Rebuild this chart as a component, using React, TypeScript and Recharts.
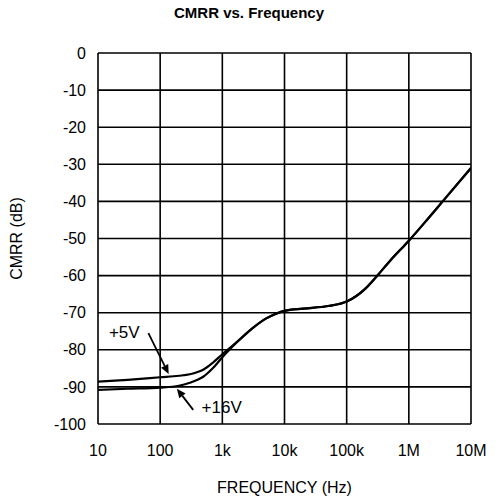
import React from "react";
import { LineChart, Line, XAxis, YAxis, CartesianGrid, ReferenceLine, Label } from "recharts";

const freqs = [10, 30, 100, 200, 300, 400, 500, 700, 1000, 1300, 2000, 3000, 5000, 7000, 10000, 20000, 50000, 100000, 200000, 300000, 500000, 1000000, 2000000, 3500000, 10000000];
const cmrr5V = [-88.6, -88.1, -87.4, -87.0, -86.6, -86.0, -85.3, -83.5, -81.2, -79.6, -76.9, -74.3, -71.6, -70.4, -69.5, -68.9, -68.2, -67.0, -63.5, -60.3, -56.0, -50.6, -44.8, -40.0, -31.0];
const cmrr16V = [-90.8, -90.5, -90.2, -89.7, -88.9, -88.1, -87.2, -85.0, -82.0, -80.0, -76.9, -74.3, -71.6, -70.4, -69.5, -68.9, -68.2, -67.0, -63.5, -60.3, -56.0, -50.6, -44.8, -40.0, -31.0];
const xTicks = [10, 100, 1000, 10000, 100000, 1000000, 10000000];
const xTickLabels = ["10", "100", "1k", "10k", "100k", "1M", "10M"];
const yTicks = [0, -10, -20, -30, -40, -50, -60, -70, -80, -90, -100];

const data = freqs.map((f, i) => ({ f, v5: cmrr5V[i], v16: cmrr16V[i] }));

const FONT = "'Liberation Sans', Arial, sans-serif";

const Arrow = (props: any) => {
  const { x1, y1, x2, y2 } = props;
  if ([x1, y1, x2, y2].some((v) => typeof v !== "number" || isNaN(v))) return null;
  const ang = Math.atan2(y2 - y1, x2 - x1);
  const L = 9, W = 4;
  const bx = x2 - L * Math.cos(ang), by = y2 - L * Math.sin(ang);
  const px = -Math.sin(ang) * W, py = Math.cos(ang) * W;
  return (
    <g>
      <line x1={x1} y1={y1} x2={bx} y2={by} stroke="#000" strokeWidth={1.8} />
      <polygon points={`${x2},${y2} ${bx + px},${by + py} ${bx - px},${by - py}`} fill="#000" />
    </g>
  );
};

export default function App() {
  return (
    <div style={{ position: "absolute", left: 0, top: 0, width: 502, height: 502, background: "#fff", fontFamily: FONT }}>
      <div style={{ position: "absolute", left: 0, top: 4, width: 498, textAlign: "center", fontWeight: "bold", fontSize: 15, color: "#000" }}>
        CMRR vs. Frequency
      </div>
      <LineChart width={502} height={502} data={data} margin={{ top: 53, right: 31, bottom: 0, left: 0 }}>
        <CartesianGrid stroke="#000" strokeWidth={1.6} horizontalValues={yTicks} verticalValues={xTicks} />
        <XAxis
          dataKey="f"
          type="number"
          scale="log"
          domain={[10, 10000000]}
          ticks={xTicks}
          tickFormatter={(v: number) => xTickLabels[xTicks.indexOf(v)] ?? String(v)}
          axisLine={false}
          tickLine={false}
          tickSize={0}
          tickMargin={21}
          height={78}
          allowDataOverflow
          interval={0}
          tick={{ fill: "#000", fontSize: 16, fontFamily: FONT }}
        >
          <Label value="FREQUENCY (Hz)" position="insideBottom" offset={9} style={{ fill: "#000", fontSize: 16, fontFamily: FONT }} />
        </XAxis>
        <YAxis
          type="number"
          domain={[-100, 0]}
          ticks={yTicks}
          interval={0}
          axisLine={false}
          tickLine={false}
          tickSize={0}
          tickMargin={12}
          width={98}
          allowDataOverflow
          tick={{ fill: "#000", fontSize: 16, fontFamily: FONT }}
        >
          <Label value="CMRR (dB)" angle={-90} position="insideLeft" offset={16} style={{ fill: "#000", fontSize: 16, fontFamily: FONT, textAnchor: "middle" }} />
        </YAxis>
        <Line type="monotone" dataKey="v5" stroke="#000" strokeWidth={2.2} dot={false} isAnimationActive={false} />
        <Line type="monotone" dataKey="v16" stroke="#000" strokeWidth={2.2} dot={false} isAnimationActive={false} />
        <ReferenceLine segment={[{ x: 64.6, y: -75.5 }, { x: 137, y: -86.5 }]} shape={Arrow} ifOverflow="visible" />
        <ReferenceLine segment={[{ x: 340, y: -96.2 }, { x: 186, y: -90.5 }]} shape={Arrow} ifOverflow="visible" />
        <ReferenceLine segment={[{ x: 15, y: -75.3 }, { x: 15, y: -75.3 }]} stroke="none" ifOverflow="visible">
          <Label value="+5V" position="right" offset={0} style={{ fill: "#000", fontSize: 17, fontFamily: FONT }} />
        </ReferenceLine>
        <ReferenceLine segment={[{ x: 464, y: -95.5 }, { x: 464, y: -95.5 }]} stroke="none" ifOverflow="visible">
          <Label value="+16V" position="right" offset={0} style={{ fill: "#000", fontSize: 17, fontFamily: FONT }} />
        </ReferenceLine>
      </LineChart>
    </div>
  );
}
